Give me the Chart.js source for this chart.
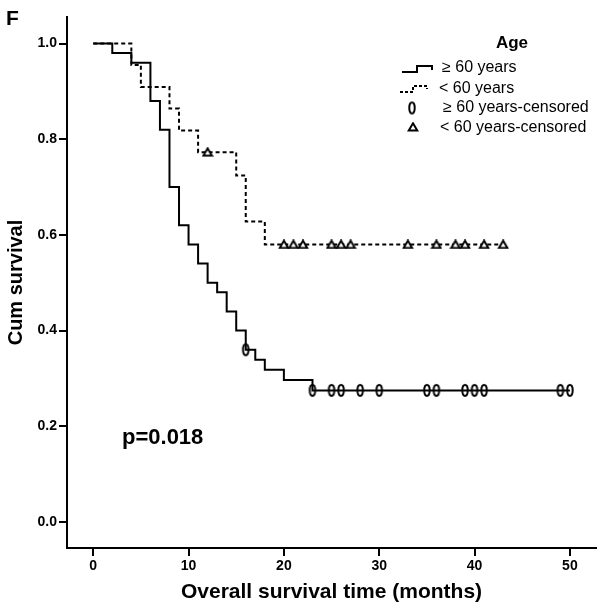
<!DOCTYPE html>
<html>
<head>
<meta charset="utf-8">
<script src="https://cdn.jsdelivr.net/npm/chart.js@4.4.1/dist/chart.umd.min.js"></script>
<style>
  html, body { margin: 0; padding: 0; background: #ffffff; }
  #wrap { width: 602px; height: 609px; }
</style>
</head>
<body>
<div id="wrap"><canvas id="c" width="602" height="609"></canvas></div>
<script>
// ---- data ----
const olderTimes = [0, 2, 4, 6, 7, 8, 9, 10, 11, 12, 13, 14, 15, 16, 17, 18, 20, 23, 50];
const olderSurv  = [1.00, 0.98, 0.96, 0.88, 0.82, 0.70, 0.62, 0.58, 0.54, 0.50, 0.48, 0.44, 0.40, 0.36, 0.339, 0.318, 0.297, 0.275, 0.275];
const youngerTimes = [0, 4, 5, 8, 9, 11, 15, 16, 18, 43];
const youngerSurv  = [1.00, 0.955, 0.909, 0.864, 0.818, 0.773, 0.724, 0.628, 0.580, 0.580];
const olderCensTimes = [16, 23, 25, 26, 28, 30, 35, 36, 39, 40, 41, 49, 50];
const olderCensSurv  = [0.36, 0.275, 0.275, 0.275, 0.275, 0.275, 0.275, 0.275, 0.275, 0.275, 0.275, 0.275, 0.275];
const youngerCensTimes = [12, 20, 21, 22, 25, 26, 27, 33, 36, 38, 39, 41, 43];
const youngerCensSurv  = [0.773, 0.58, 0.58, 0.58, 0.58, 0.58, 0.58, 0.58, 0.58, 0.58, 0.58, 0.58, 0.58];
const xTicks = [0, 10, 20, 30, 40, 50];
const xTickLabels = ['0', '10', '20', '30', '40', '50'];
const yTicks = [0.0, 0.2, 0.4, 0.6, 0.8, 1.0];
const yTickLabels = ['0.0', '0.2', '0.4', '0.6', '0.8', '1.0'];
const seriesNames = ['\u2265 60 years', '< 60 years', '\u2265 60 years-censored', '< 60 years-censored'];
const legendTitle = 'Age';
const xTitle = 'Overall survival time (months)';
const yTitle = 'Cum survival';
const panelLabel = 'F';
const pValueText = 'p=0.018';

const FONT = "'Liberation Sans', Arial, Helvetica, sans-serif";

function toXY(xs, ys) { return xs.map((x, i) => ({ x: x, y: ys[i] })); }

// custom marker images
function makeEllipse() {
  const c = document.createElement('canvas');
  c.width = 10; c.height = 15;
  const g = c.getContext('2d');
  g.strokeStyle = '#000'; g.lineWidth = 2;
  g.beginPath(); g.ellipse(5, 7.5, 2.7, 5.4, 0, 0, Math.PI * 2); g.stroke();
  return c;
}
function makeTriangle() {
  const c = document.createElement('canvas');
  c.width = 12; c.height = 10;
  const g = c.getContext('2d');
  g.strokeStyle = '#000'; g.lineWidth = 2; g.fillStyle = '#fff'; g.lineJoin = 'miter';
  g.beginPath(); g.moveTo(6, 1.3); g.lineTo(10.3, 8.5); g.lineTo(1.7, 8.5); g.closePath();
  g.fill(); g.stroke();
  return c;
}
const ellipseImg = makeEllipse();
const triangleImg = makeTriangle();

const extras = {
  id: 'extras',
  afterDraw(chart) {
    const ctx = chart.ctx;
    ctx.save();
    ctx.fillStyle = '#000';
    ctx.strokeStyle = '#000';
    // panel letter
    ctx.font = 'bold 21px ' + FONT;
    ctx.textAlign = 'left'; ctx.textBaseline = 'alphabetic';
    ctx.fillText(panelLabel, 6, 25);
    // p value
    ctx.font = 'bold 22px ' + FONT;
    ctx.textBaseline = 'middle';
    ctx.fillText(pValueText, 122, 438);
    // legend
    ctx.font = 'bold 17px ' + FONT;
    ctx.textAlign = 'center';
    ctx.fillText(legendTitle, 512, 43);
    ctx.font = '16px ' + FONT;
    ctx.textAlign = 'left';
    // solid step symbol
    ctx.lineWidth = 2; ctx.setLineDash([]);
    ctx.beginPath(); ctx.moveTo(402, 72); ctx.lineTo(417, 72); ctx.lineTo(417, 66); ctx.lineTo(432, 66); ctx.lineTo(432, 70); ctx.stroke();
    ctx.fillText(seriesNames[0], 442, 68);
    // dashed step symbol
    ctx.setLineDash([3, 2]);
    ctx.beginPath(); ctx.moveTo(400, 92); ctx.lineTo(413, 92); ctx.lineTo(413, 86); ctx.lineTo(427, 86); ctx.lineTo(427, 89); ctx.stroke();
    ctx.setLineDash([]);
    ctx.fillText(seriesNames[1], 439, 89);
    // censor symbols
    ctx.drawImage(ellipseImg, 412 - ellipseImg.width / 2, 108 - ellipseImg.height / 2);
    ctx.fillText(seriesNames[2], 443, 108);
    ctx.drawImage(triangleImg, 413 - triangleImg.width / 2, 127 - triangleImg.height / 2);
    ctx.fillText(seriesNames[3], 440, 128);
    ctx.restore();
  }
};

new Chart(document.getElementById('c'), {
  type: 'line',
  data: {
    datasets: [
      { label: seriesNames[3], data: toXY(youngerCensTimes, youngerCensSurv), showLine: false,
        pointStyle: triangleImg, pointRadius: 5, pointHoverRadius: 5, borderColor: '#000', backgroundColor: '#fff' },
      { label: seriesNames[2], data: toXY(olderCensTimes, olderCensSurv), showLine: false,
        pointStyle: ellipseImg, pointRadius: 5, pointHoverRadius: 5, borderColor: '#000', backgroundColor: '#fff' },
      { label: seriesNames[0], data: toXY(olderTimes, olderSurv), stepped: 'before',
        borderColor: '#000', borderWidth: 2, pointRadius: 0, fill: false },
      { label: seriesNames[1], data: toXY(youngerTimes, youngerSurv), stepped: 'before',
        borderColor: '#000', borderWidth: 2, borderDash: [4, 3], pointRadius: 0, fill: false }
    ]
  },
  options: {
    responsive: false,
    animation: false,
    devicePixelRatio: 1,
    layout: { padding: { top: 17, right: 5, left: 0, bottom: 0 } },
    plugins: { legend: { display: false }, tooltip: { enabled: false }, title: { display: false } },
    scales: {
      x: {
        type: 'linear',
        min: -2.75, max: 52.74,
        afterBuildTicks: (s) => { s.ticks = xTicks.map(v => ({ value: v })); },
        afterFit: (s) => { s.height = 61; },
        ticks: {
          autoSkip: false, maxRotation: 0, padding: 2, color: '#000',
          font: { family: FONT, size: 14, weight: 'bold' },
          callback: (v) => { const i = xTicks.indexOf(v); return i >= 0 ? xTickLabels[i] : ''; }
        },
        grid: { display: true, drawOnChartArea: false, drawTicks: true, tickLength: 8, tickWidth: 2, tickColor: '#000', color: '#000', lineWidth: 2 },
        border: { display: true, color: '#000', width: 2 },
        title: { display: true, text: xTitle, color: '#000', padding: { top: 0, bottom: 4 },
          font: { family: FONT, size: 21, weight: 'bold' } }
      },
      y: {
        type: 'linear',
        min: -0.0543, max: 1.0554,
        afterBuildTicks: (s) => { s.ticks = yTicks.map(v => ({ value: v })); },
        afterFit: (s) => { s.width = 67; },
        ticks: {
          autoSkip: false, padding: 2, color: '#000',
          font: { family: FONT, size: 14, weight: 'bold' },
          callback: (v) => { const i = yTicks.findIndex(t => Math.abs(t - v) < 1e-9); return i >= 0 ? yTickLabels[i] : ''; }
        },
        grid: { display: true, drawOnChartArea: false, drawTicks: true, tickLength: 8, tickWidth: 2, tickColor: '#000', color: '#000', lineWidth: 2 },
        border: { display: true, color: '#000', width: 2 },
        title: { display: true, text: yTitle, color: '#000', padding: { top: 4, bottom: 0 },
          font: { family: FONT, size: 20, weight: 'bold' } }
      }
    }
  },
  plugins: [extras]
});
</script>
</body>
</html>
